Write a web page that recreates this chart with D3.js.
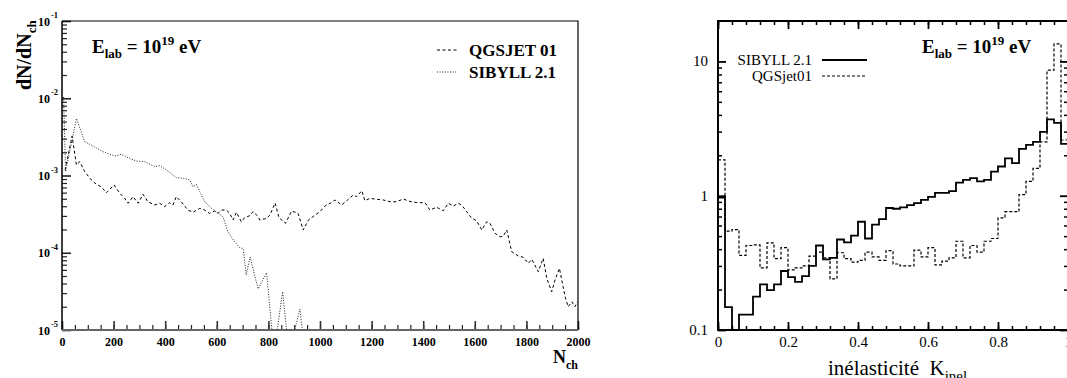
<!DOCTYPE html>
<html><head><meta charset="utf-8">
<script src="https://cdn.jsdelivr.net/npm/d3@7"></script>
<style>
body{margin:0;background:#fff}
svg{display:block}
text{font-family:"Liberation Serif","Times New Roman",serif;fill:#000}
</style>
</head><body>
<svg id="c" width="1067" height="378"></svg>
<script>
// ---------- Left panel data: dN/dNch vs Nch ----------
const qgsNch = [12,39,56,69,88,114,133,152,172,202,224,243,256,275,295,314,333,359,379,398,417,430,443,462,488,508,534,553,572,592,605,617,637,650,663,676,695,708,728,740,757,767,793,806,826,841,866,890,915,935,955,981,1000,1019,1039,1058,1084,1110,1129,1142,1162,1174,1194,1220,1245,1271,1297,1323,1342,1362,1388,1407,1426,1452,1478,1497,1517,1536,1549,1569,1588,1607,1627,1646,1659,1678,1698,1710,1724,1743,1769,1788,1807,1821,1846,1865,1879,1898,1911,1928,1950,1962,1976,1988,1998];
const qgsDens = [1.18e-3,3.24e-3,1.37e-3,1.51e-3,1.12e-3,8.75e-4,7.69e-4,7.16e-4,5.98e-4,7.53e-4,5.88e-4,5.07e-4,4.37e-4,5.32e-4,4.37e-4,5.71e-4,4.58e-4,4.15e-4,4.37e-4,3.95e-4,4.45e-4,4.15e-4,5.32e-4,4.58e-4,3.57e-4,3.34e-4,3.76e-4,3.57e-4,3.24e-4,3.47e-4,3.24e-4,3.57e-4,3.57e-4,3.24e-4,2.65e-4,3.34e-4,2.52e-4,2.84e-4,3.02e-4,3.40e-4,3.02e-4,2.65e-4,2.79e-4,3.08e-4,4.41e-4,2.86e-4,2.40e-4,3.47e-4,3.24e-4,1.97e-4,2.65e-4,3.08e-4,3.40e-4,4.03e-4,4.37e-4,4.82e-4,4.15e-4,4.92e-4,5.60e-4,5.32e-4,6.35e-4,4.72e-4,5.07e-4,4.92e-4,4.82e-4,4.58e-4,4.58e-4,4.97e-4,4.68e-4,4.50e-4,4.45e-4,4.45e-4,3.57e-4,3.88e-4,3.50e-4,4.37e-4,4.03e-4,4.37e-4,4.15e-4,3.40e-4,2.79e-4,2.60e-4,1.97e-4,2.52e-4,2.40e-4,1.79e-4,1.61e-4,1.64e-4,1.97e-4,1.03e-4,9.08e-5,8.73e-5,7.30e-5,8.22e-5,5.69e-5,8.47e-5,4.67e-5,3.13e-5,4.44e-5,6.29e-5,2.70e-5,2.00e-5,2.32e-5,2.00e-5,2.32e-5];
const sibNch = [6,14,56,88,114,159,204,230,262,288,321,359,379,411,443,469,495,508,521,534,553,579,605,624,643,669,689,702,714,729,760,793,822,855,880,922,942];
const sibDens = [1.04e-2,1.12e-3,5.47e-3,2.74e-3,2.48e-3,2.03e-3,1.79e-3,1.88e-3,1.67e-3,1.54e-3,1.51e-3,1.30e-3,1.34e-3,1.14e-3,9.37e-4,9.20e-4,8.75e-4,7.16e-4,7.69e-4,6.18e-4,4.59e-4,3.77e-4,3.24e-4,2.93e-4,1.87e-4,1.39e-4,1.16e-4,1.14e-4,5.15e-5,8.81e-5,3.40e-5,5.52e-5,5e-6,3.13e-5,5e-6,1.87e-5,5e-6];
const nchTicks = [0,200,400,600,800,1000,1200,1400,1600,1800,2000];
const densDecades = [1e-5,1e-4,1e-3,1e-2,1e-1];
const densExponents = ["-5","-4","-3","-2","-1"];

// ---------- Right panel data: inelasticity histogram ----------
const kBinStart = d3.range(50).map(i => i * 0.02);
const kBinWidth = 0.02;
const sibyllK = [0.97,0.148,0.05,0.13,0.13,0.177,0.219,0.198,0.219,0.275,0.248,0.228,0.252,0.30,0.426,0.336,0.345,0.472,0.45,0.505,0.64,0.48,0.61,0.67,0.81,0.80,0.82,0.85,0.88,0.93,0.98,1.05,1.05,1.08,1.25,1.31,1.35,1.28,1.31,1.51,1.65,1.90,1.75,2.23,2.39,2.52,2.99,3.70,3.49,2.43];
const qgsjetK = [1.85,0.544,0.56,0.36,0.426,0.43,0.29,0.446,0.34,0.41,0.28,0.29,0.30,0.355,0.38,0.345,0.24,0.376,0.34,0.32,0.33,0.38,0.35,0.33,0.39,0.31,0.30,0.30,0.394,0.35,0.41,0.305,0.326,0.345,0.458,0.345,0.426,0.38,0.458,0.48,0.684,0.76,0.76,1.02,1.28,1.6,2.52,8.6,13.5,2.6];
const kTicks = [0,0.2,0.4,0.6,0.8,1];
const kTickLabels = ["0","0.2","0.4","0.6","0.8","1"];
const kYTicks = [0.1,1,10];
const kYTickLabels = ["0.1","1","10"];

const svg = d3.select("#c");

// ================= LEFT PANEL =================
const xL = d3.scaleLinear([0,2000],[62,578]);
const yL = d3.scaleLog([1e-5,1e-1],[330,21]);
const defs = svg.append("defs");
defs.append("clipPath").attr("id","clipL").append("rect")
  .attr("x",62).attr("y",21).attr("width",516).attr("height",309);
defs.append("clipPath").attr("id","clipR").append("rect")
  .attr("x",718).attr("y",21).attr("width",350).attr("height",309);

const gL = svg.append("g");
// bottom axis minor / major
function styleAxis(g, w, col){
  g.select(".domain").remove();
  g.selectAll(".tick line").attr("stroke",col||"#000").attr("stroke-width",w);
}
gL.append("g").attr("transform","translate(0,330)")
  .call(d3.axisBottom(xL).tickValues(d3.range(0,2001,50)).tickSize(-5).tickFormat(""))
  .call(g=>styleAxis(g,1.2,"#222"));
gL.append("g").attr("transform","translate(0,330)")
  .call(d3.axisBottom(xL).tickValues(nchTicks).tickSize(-9).tickPadding(7).tickFormat(d3.format("d")))
  .call(g=>{styleAxis(g,1.6,"#333");
    g.selectAll("text").attr("font-size",12).attr("font-weight","bold")
     .style("font-family","'Liberation Serif',serif");});
// left axis
const minorL = [];
densDecades.slice(0,-1).forEach(d=>{for(let m=2;m<=9;m++) minorL.push(d*m);});
gL.append("g").attr("transform","translate(62,0)")
  .call(d3.axisLeft(yL).tickValues(minorL).tickSize(-5).tickFormat(""))
  .call(g=>styleAxis(g,1.2,"#222"));
gL.append("g").attr("transform","translate(62,0)")
  .call(d3.axisLeft(yL).tickValues(densDecades).tickSize(-9).tickFormat(""))
  .call(g=>styleAxis(g,1.6,"#222"));
// y labels 10^n
densDecades.forEach((d,i)=>{
  const t = gL.append("text").attr("x",50).attr("y",yL(d)+4.5)
    .attr("text-anchor","end").attr("font-size",12).attr("font-weight","bold").text("10");
  gL.append("text").attr("x",51).attr("y",yL(d)-3).attr("font-size",8.5)
    .attr("font-weight","bold").text(densExponents[i]);
});
// frame
gL.append("path").attr("d",`M62,21H578V330`).attr("fill","none").attr("stroke","#000").attr("stroke-width",1.2);
gL.append("line").attr("x1",62).attr("x2",62).attr("y1",21).attr("y2",330).attr("stroke","#000").attr("stroke-width",1.5);
gL.append("line").attr("x1",62).attr("x2",578).attr("y1",330).attr("y2",330).attr("stroke","#666").attr("stroke-width",2);

// lines
const lineL = d3.line().x(d=>xL(d[0])).y(d=>yL(d[1]));
const gLines = gL.append("g").attr("clip-path","url(#clipL)");
gLines.append("path").datum(d3.zip(qgsNch,qgsDens)).attr("d",lineL)
  .attr("fill","none").attr("stroke","#000").attr("stroke-width",1).attr("stroke-dasharray","3,2.5");
gLines.append("path").datum(d3.zip(sibNch,sibDens)).attr("d",lineL)
  .attr("fill","none").attr("stroke","#222").attr("stroke-width",1).attr("stroke-dasharray","1,1.6");

// texts
const tE = gL.append("text").attr("x",92).attr("y",53).attr("font-size",19).attr("font-weight","bold");
tE.append("tspan").text("E");
tE.append("tspan").attr("font-size",13).attr("dy",5).text("lab");
tE.append("tspan").attr("dy",-5).text(" = 10");
tE.append("tspan").attr("font-size",13).attr("dy",-8).text("19");
tE.append("tspan").attr("dy",8).text(" eV");

const tY = gL.append("text").attr("transform","translate(31,90) rotate(-90)")
  .attr("font-size",20).attr("font-weight","bold");
tY.append("tspan").text("dN/dN");
tY.append("tspan").attr("font-size",13).attr("dy",5).text("ch");

const tX = gL.append("text").attr("x",553).attr("y",363).attr("font-size",18).attr("font-weight","bold");
tX.append("tspan").text("N");
tX.append("tspan").attr("font-size",12).attr("dy",6).text("ch");

// legend left
gL.append("line").attr("x1",437).attr("x2",457).attr("y1",50).attr("y2",50)
  .attr("stroke","#000").attr("stroke-width",1).attr("stroke-dasharray","3,2.5");
gL.append("line").attr("x1",437).attr("x2",457).attr("y1",72).attr("y2",72)
  .attr("stroke","#222").attr("stroke-width",1).attr("stroke-dasharray","1,1.6");
gL.append("text").attr("x",469).attr("y",56).attr("font-size",17).attr("font-weight","bold").text("QGSJET 01");
gL.append("text").attr("x",469).attr("y",78).attr("font-size",17).attr("font-weight","bold").text("SIBYLL 2.1");

// ================= RIGHT PANEL =================
const xR = d3.scaleLinear([0,1],[718,1068]);
const yR = d3.scaleLog([0.1,20],[330,21]);
const gR = svg.append("g");
const kMinor = d3.range(0,1.0001,0.04);
gR.append("g").attr("transform","translate(0,330)")
  .call(d3.axisBottom(xR).tickValues(kMinor).tickSize(-4).tickFormat(""))
  .call(g=>styleAxis(g,1.5));
gR.append("g").attr("transform","translate(0,330)")
  .call(d3.axisBottom(xR).tickValues(kTicks).tickSize(-8).tickPadding(6).tickFormat((d,i)=>kTickLabels[i]))
  .call(g=>{styleAxis(g,1.8); g.selectAll("text").attr("font-size",15)
     .style("font-family","'Liberation Serif',serif");});
gR.append("g").attr("transform","translate(0,21)")
  .call(d3.axisTop(xR).tickValues(kMinor).tickSize(-4).tickFormat(""))
  .call(g=>styleAxis(g,1.5));
gR.append("g").attr("transform","translate(0,21)")
  .call(d3.axisTop(xR).tickValues(kTicks).tickSize(-8).tickFormat(""))
  .call(g=>styleAxis(g,1.8));
const yMinorR = [];
[0.1,1].forEach(d=>{for(let m=2;m<=9;m++) yMinorR.push(d*m);});
[718,1068].forEach((xx,j)=>{
  const ax = j===0 ? d3.axisLeft : d3.axisRight;
  gR.append("g").attr("transform",`translate(${xx},0)`)
    .call(ax(yR).tickValues(yMinorR).tickSize(-4).tickFormat(""))
    .call(g=>styleAxis(g,1.5));
  gR.append("g").attr("transform",`translate(${xx},0)`)
    .call(ax(yR).tickValues(kYTicks).tickSize(-8).tickFormat(""))
    .call(g=>styleAxis(g,1.8));
});
kYTicks.forEach((d,i)=>{
  gR.append("text").attr("x",708).attr("y",yR(d)+5).attr("text-anchor","end")
    .attr("font-size",15).text(kYTickLabels[i]);
});
gR.append("rect").attr("x",718).attr("y",21).attr("width",350).attr("height",309)
  .attr("fill","none").attr("stroke","#000").attr("stroke-width",2);

// histograms
const stepLine = d3.line().curve(d3.curveStepAfter).x(d=>xR(d[0])).y(d=>yR(d[1]));
function histPts(vals){
  const pts = kBinStart.map((k,i)=>[k, vals[i]]);
  pts.push([kBinStart[kBinStart.length-1]+kBinWidth, vals[vals.length-1]]);
  return pts;
}
const gH = gR.append("g").attr("clip-path","url(#clipR)");
gH.append("path").datum(histPts(qgsjetK)).attr("d",stepLine)
  .attr("fill","none").attr("stroke","#000").attr("stroke-width",1.2).attr("stroke-dasharray","3,2");
gH.append("path").datum(histPts(sibyllK)).attr("d",stepLine)
  .attr("fill","none").attr("stroke","#000").attr("stroke-width",1.8);

// legend right
gR.append("text").attr("x",812).attr("y",65).attr("text-anchor","end").attr("font-size",15).text("SIBYLL 2.1");
gR.append("text").attr("x",812).attr("y",81).attr("text-anchor","end").attr("font-size",15).text("QGSjet01");
gR.append("line").attr("x1",822).attr("x2",867).attr("y1",60).attr("y2",60).attr("stroke","#000").attr("stroke-width",1.8);
gR.append("line").attr("x1",822).attr("x2",867).attr("y1",76).attr("y2",76).attr("stroke","#000").attr("stroke-width",1.2).attr("stroke-dasharray","3,2");

const tE2 = gR.append("text").attr("x",922).attr("y",53).attr("font-size",19).attr("font-weight","bold");
tE2.append("tspan").text("E");
tE2.append("tspan").attr("font-size",13).attr("dy",5).text("lab");
tE2.append("tspan").attr("dy",-5).text(" = 10");
tE2.append("tspan").attr("font-size",13).attr("dy",-8).text("19");
tE2.append("tspan").attr("dy",8).text(" eV");

const tK = gR.append("text").attr("x",828).attr("y",375).attr("font-size",21);
tK.append("tspan").text("inélasticité\u00a0\u00a0K");
tK.append("tspan").attr("font-size",15).attr("dy",6).text("inel");
</script>
</body></html>
